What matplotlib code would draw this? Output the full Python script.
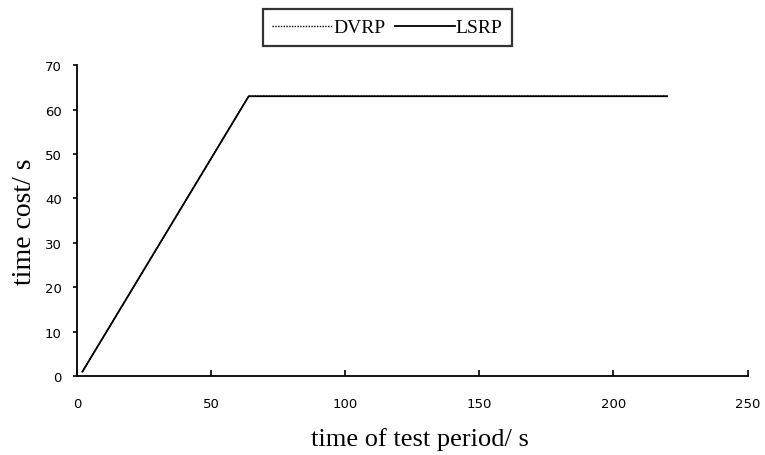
import matplotlib
matplotlib.use("Agg")
import matplotlib.pyplot as plt
from matplotlib.lines import Line2D

# values
period = [2, 20, 40, 64, 100, 150, 220]
dvrp_cost = [1, 19, 39, 63, 63, 63, 63]
lsrp_cost = [1, 19, 39, 63, 63, 63, 63]
x_ticks = [0, 50, 100, 150, 200, 250]
y_ticks = [0, 10, 20, 30, 40, 50, 60, 70]

fig = plt.figure(figsize=(7.65, 4.56), dpi=100)
ax = fig.add_axes([0.1007, 0.173, 0.8765, 0.682])

ax.plot(period, dvrp_cost, color='black', linestyle=(0, (1, 1)), linewidth=1.0)
ax.plot(period, lsrp_cost, color='black', linestyle='-', linewidth=1.3)

ax.set_xlim(0, 250)
ax.set_ylim(0, 70)
ax.set_xticks(x_ticks)
ax.set_yticks(y_ticks)

for side in ['top', 'right']:
    ax.spines[side].set_visible(False)
for side in ['left', 'bottom']:
    ax.spines[side].set_linewidth(1.3)

ax.tick_params(axis='x', direction='in', length=4, width=1.2, pad=15, labelsize=9.5)
ax.tick_params(axis='y', direction='out', length=3, width=1.2, pad=8, labelsize=9.5)
for lab in ax.get_xticklabels() + ax.get_yticklabels():
    lab.set_family('DejaVu Sans')

ax.set_xlabel('time of test period/ s', family='Liberation Serif', fontsize=19)
ax.xaxis.set_label_coords(0.512, -0.163)
ax.set_ylabel('time cost/ s', family='Liberation Serif', fontsize=20, labelpad=6)

handles = [Line2D([], [], color='black', linestyle=(0, (1, 1)), linewidth=1.0),
           Line2D([], [], color='black', linestyle='-', linewidth=1.3)]
leg = fig.legend(handles, ['DVRP', 'LSRP'], loc='upper center', bbox_to_anchor=(0.5065, 0.978),
                 ncol=2, frameon=True, fancybox=False, handlelength=3.1, handletextpad=0.05,
                 columnspacing=0.45, borderpad=0.5, borderaxespad=0,
                 prop={'family': 'Liberation Serif', 'size': 14})
leg.get_frame().set_edgecolor('black')
leg.get_frame().set_linewidth(1.6)

fig.savefig('out.png', dpi=100)
